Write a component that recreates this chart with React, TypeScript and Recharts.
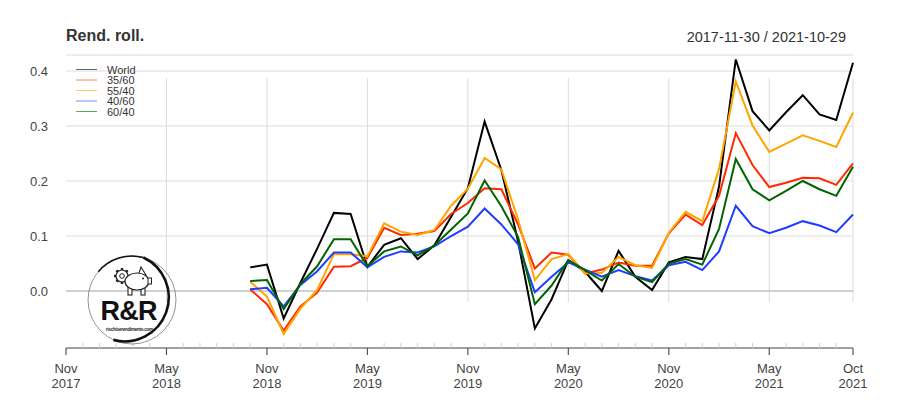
import React from 'react';
import {
  LineChart,
  Line,
  XAxis,
  YAxis,
  CartesianGrid,
  ReferenceLine,
} from 'recharts';

// month index 0 = Nov 2017, data starts at Oct 2018 (index 11)
const firstIndex = 11;
const months = [
  '2018-10', '2018-11', '2018-12', '2019-01', '2019-02', '2019-03', '2019-04', '2019-05',
  '2019-06', '2019-07', '2019-08', '2019-09', '2019-10', '2019-11', '2019-12', '2020-01',
  '2020-02', '2020-03', '2020-04', '2020-05', '2020-06', '2020-07', '2020-08', '2020-09',
  '2020-10', '2020-11', '2020-12', '2021-01', '2021-02', '2021-03', '2021-04', '2021-05',
  '2021-06', '2021-07', '2021-08', '2021-09', '2021-10',
];

const world = [
  0.043, 0.048, -0.05, 0.015, 0.077, 0.142, 0.14, 0.044, 0.084, 0.096, 0.058, 0.083,
  0.135, 0.187, 0.308, 0.22, 0.09, -0.068, -0.015, 0.056, 0.035, 0.0, 0.073, 0.026,
  0.002, 0.052, 0.062, 0.058, 0.19, 0.421, 0.327, 0.292, 0.325, 0.356, 0.321, 0.311, 0.415,
];
const p3560 = [
  0.003, -0.024, -0.072, -0.028, -0.003, 0.044, 0.045, 0.06, 0.115, 0.102, 0.104, 0.109,
  0.14, 0.16, 0.187, 0.185, 0.121, 0.041, 0.07, 0.066, 0.032, 0.039, 0.052, 0.046,
  0.046, 0.105, 0.139, 0.12, 0.173, 0.287, 0.229, 0.189, 0.197, 0.206, 0.205, 0.193, 0.232,
];
const p5540 = [
  0.017, -0.01, -0.078, -0.032, 0.002, 0.067, 0.067, 0.063, 0.123, 0.108, 0.102, 0.111,
  0.155, 0.186, 0.242, 0.221, 0.13, 0.02, 0.058, 0.067, 0.032, 0.033, 0.062, 0.047,
  0.042, 0.106, 0.144, 0.127, 0.222, 0.381, 0.301, 0.253, 0.268, 0.283, 0.273, 0.262, 0.324,
];
const p4060 = [
  0.003, 0.006, -0.028, 0.011, 0.036, 0.07, 0.07, 0.043, 0.062, 0.072, 0.07, 0.081,
  0.1, 0.117, 0.15, 0.121, 0.085, -0.002, 0.026, 0.052, 0.039, 0.026, 0.038, 0.027,
  0.019, 0.047, 0.053, 0.038, 0.072, 0.155, 0.118, 0.105, 0.115, 0.127, 0.119, 0.107, 0.139,
];
const p6040 = [
  0.018, 0.02, -0.033, 0.013, 0.045, 0.094, 0.094, 0.045, 0.072, 0.081, 0.065, 0.083,
  0.112, 0.141, 0.201, 0.154, 0.098, -0.024, 0.01, 0.056, 0.038, 0.019, 0.049, 0.026,
  0.016, 0.05, 0.058, 0.048, 0.113, 0.24, 0.185, 0.165, 0.182, 0.2, 0.185, 0.173, 0.226,
];

const majorTicks = [0, 6, 12, 18, 24, 30, 36, 42, 47];
const majorLabels = [
  ['Nov', '2017'], ['May', '2018'], ['Nov', '2018'], ['May', '2019'], ['Nov', '2019'],
  ['May', '2020'], ['Nov', '2020'], ['May', '2021'], ['Oct', '2021'],
];
const yTicks = [0, 0.1, 0.2, 0.3, 0.4];

const series = [
  { key: 'World', color: '#000000', values: world },
  { key: '35/60', color: '#ff2a00', values: p3560 },
  { key: '55/40', color: '#ffa500', values: p5540 },
  { key: '40/60', color: '#1f3dff', values: p4060 },
  { key: '60/40', color: '#006400', values: p6040 },
];

const data = months.map((m, k) => {
  const row: any = { idx: firstIndex + k, month: m };
  series.forEach((s) => (row[s.key] = s.values[k]));
  return row;
});

const allMonths = Array.from({ length: 48 }, (_, i) => i);
const FONT = '"Liberation Sans", Arial, sans-serif';

const MonthTick = (props: any) => {
  const { x, y, payload } = props;
  const pos = majorTicks.indexOf(payload.value);
  if (pos < 0) {
    return <line x1={x} x2={x} y1={y - 5} y2={y} stroke="#d0d0d0" strokeWidth={1} />;
  }
  const [a, b] = majorLabels[pos];
  return (
    <g>
      <line x1={x} x2={x} y1={y} y2={y + 7} stroke="#555" strokeWidth={1.2} />
      <text x={x} y={y + 25} textAnchor="middle" fontSize={13} fill="#444" fontFamily={FONT}>
        {a}
      </text>
      <text x={x} y={y + 40} textAnchor="middle" fontSize={13} fill="#444" fontFamily={FONT}>
        {b}
      </text>
    </g>
  );
};

function Logo() {
  const cx = 132;
  const cy = 300;
  const r = 44;
  const arc = (a0: number, a1: number) => {
    const p = (a: number) => [cx + r * Math.cos((a * Math.PI) / 180), cy + r * Math.sin((a * Math.PI) / 180)];
    const [x0, y0] = p(a0);
    const [x1, y1] = p(a1);
    return `M${x0},${y0} A${r},${r} 0 0 1 ${x1},${y1}`;
  };
  const teeth = Array.from({ length: 8 }, (_, i) => i * 45);
  const gx = 122;
  const gy = 276;
  return (
    <g>
      <circle cx={cx} cy={cy} r={r} fill="none" stroke="#666" strokeWidth={0.7} />
      <path d={arc(-75, 115)} fill="none" stroke="#111" strokeWidth={2.6} />
      <path d={arc(-140, -75)} fill="none" stroke="#111" strokeWidth={1.5} />
      {/* gear */}
      {teeth.map((a) => (
        <line
          key={a}
          x1={gx + 5 * Math.cos((a * Math.PI) / 180)}
          y1={gy + 5 * Math.sin((a * Math.PI) / 180)}
          x2={gx + 8 * Math.cos((a * Math.PI) / 180)}
          y2={gy + 8 * Math.sin((a * Math.PI) / 180)}
          stroke="#222"
          strokeWidth={2.4}
        />
      ))}
      <circle cx={gx} cy={gy} r={6} fill="#fff" stroke="#222" strokeWidth={1.2} />
      <circle cx={gx} cy={gy} r={2.3} fill="none" stroke="#222" strokeWidth={1} />
      {/* piggy */}
      <rect x={128} y={287} width={4} height={8} fill="#fff" stroke="#222" strokeWidth={1.1} />
      <rect x={141} y={287} width={4} height={8} fill="#fff" stroke="#222" strokeWidth={1.1} />
      <path d="M138,276 L141,267 L146,275 Z" fill="#fff" stroke="#222" strokeWidth={1.1} />
      <ellipse cx={137} cy={281.5} rx={12} ry={8.5} fill="#fff" stroke="#222" strokeWidth={1.2} />
      <rect x={148} y={278} width={3.5} height={6} fill="#fff" stroke="#222" strokeWidth={1} />
      <circle cx={143} cy={278.5} r={1} fill="#222" />
      <text
        x={129}
        y={320}
        textAnchor="middle"
        fontSize={27}
        fontWeight={700}
        fill="#111"
        fontFamily={FONT}
        textLength={57}
      >
        R&amp;R
      </text>
      <text x={129.5} y={330.5} textAnchor="middle" fontSize={4.5} fontWeight={700} fill="#222" fontFamily={FONT} textLength={47}>
        rischioerendimento.com
      </text>
    </g>
  );
}

export default function App() {
  return (
    <div style={{ position: 'absolute', left: 0, top: 0, width: 921, height: 400, background: '#fff' }}>
      <LineChart
        width={921}
        height={400}
        data={data}
        margin={{ top: 55, right: 68, left: 0, bottom: 0 }}
      >
        <CartesianGrid vertical={false} stroke="#dcdcdc" />
        {majorTicks.slice(1).map((m) => (
          <ReferenceLine
            key={m}
            segment={[
              { x: m, y: 0.387 },
              { x: m, y: -0.02 },
            ]}
            stroke="#dcdcdc"
          />
        ))}
        <ReferenceLine y={0} stroke="#b4b4b4" strokeWidth={1.2} />
        <XAxis
          dataKey="idx"
          type="number"
          domain={[0, 47]}
          ticks={allMonths}
          interval={0}
          tickSize={0}
          tickMargin={0}
          tickLine={false}
          axisLine={{ stroke: '#555', strokeWidth: 1.2 }}
          height={52}
          tick={<MonthTick />}
        />
        <YAxis
          type="number"
          domain={[-0.1036, 0.4291]}
          allowDataOverflow
          ticks={yTicks}
          tickFormatter={(v: number) => v.toFixed(1)}
          axisLine={false}
          tickLine={false}
          tickSize={0}
          tickMargin={18}
          width={66}
          tick={{ fontSize: 13, fill: '#444', fontFamily: FONT }}
        />
        {series.map((s) => (
          <Line
            key={s.key}
            dataKey={s.key}
            stroke={s.color}
            strokeWidth={2}
            dot={false}
            type="linear"
            isAnimationActive={false}
          />
        ))}
      </LineChart>
      <svg
        width={921}
        height={400}
        style={{ position: 'absolute', left: 0, top: 0, pointerEvents: 'none' }}
      >
        <text x={66} y={41} fontSize={16} fontWeight={700} fill="#333" fontFamily={FONT}>
          Rend. roll.
        </text>
        <text x={846} y={41.5} textAnchor="end" fontSize={14.5} fill="#333" fontFamily={FONT}>
          2017-11-30 / 2021-10-29
        </text>
        {series.map((s, i) => (
          <g key={s.key}>
            <line
              x1={76}
              x2={97}
              y1={69.5 + i * 10.5}
              y2={69.5 + i * 10.5}
              stroke={s.color}
              strokeOpacity={0.6}
              strokeWidth={1}
            />
            <text x={107} y={73.5 + i * 10.5} fontSize={11} fill="#333" fontFamily={FONT}>
              {s.key}
            </text>
          </g>
        ))}
        <Logo />
      </svg>
    </div>
  );
}
